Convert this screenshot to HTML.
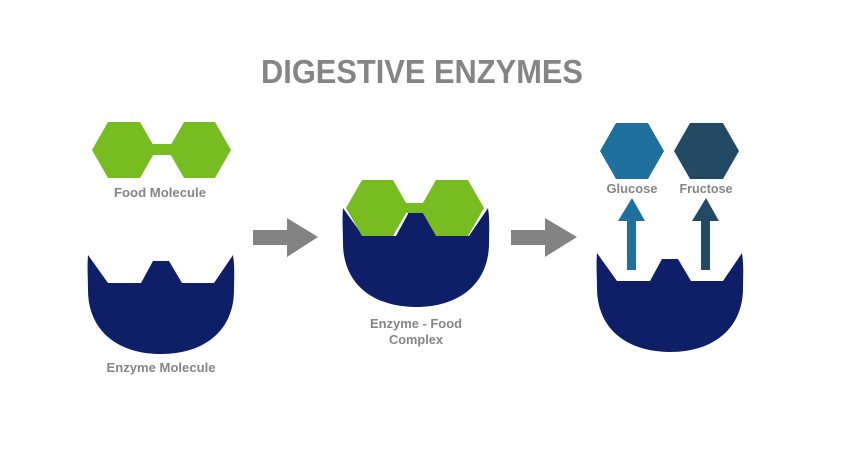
<!DOCTYPE html>
<html><head><meta charset="utf-8"><style>
html,body{margin:0;padding:0;background:#fff;width:850px;height:455px;overflow:hidden}
svg text{font-family:"Liberation Sans",sans-serif;font-weight:bold;fill:#858585}
</style></head><body>
<svg width="850" height="455" viewBox="0 0 850 455" xmlns="http://www.w3.org/2000/svg">
<defs>
<path id="enz" d="M88,255 L108,283 L141,283 L153,261 L169,261 L182,283 L214,283 L233,255 C235,268 234,278 234,290 C234,330 205,354 161,354 C117,354 88,330 88,290 C88,278 87,268 88,255 Z" fill="#0e1f68"/>
</defs>
<text x="422" y="83" font-size="33" text-anchor="middle" textLength="322" lengthAdjust="spacingAndGlyphs">DIGESTIVE ENZYMES</text>

<g fill="#77bc21">
<polygon points="92,150 108,122 140,122 156,150 140,178 108,178"/>
<rect x="150" y="144" width="24" height="11"/>
<polygon points="168,150 184,122 215,122 231,150 215,178 184,178"/>
</g>
<text x="160" y="197" font-size="13" text-anchor="middle" textLength="92" lengthAdjust="spacingAndGlyphs">Food Molecule</text>
<use href="#enz"/>
<text x="161" y="372" font-size="13" text-anchor="middle" textLength="109" lengthAdjust="spacingAndGlyphs">Enzyme Molecule</text>

<polygon points="253,230 287,230 287,218 318,237 287,257 287,245 253,245" fill="#838383"/>
<polygon points="511,230 545,230 545,218 577,237 545,257 545,245 511,245" fill="#838383"/>

<use href="#enz" transform="translate(255,-47)"/>
<g fill="#77bc21">
<polygon points="346,208 362,180 393,180 409,208 393,236 362,236"/>
<rect x="405" y="203" width="20" height="10"/>
<polygon points="420,208 436,180 468,180 484,208 468,236 436,236"/>
</g>
<path d="M403,236 L408,213 L423,213 L428,236 Z" fill="#0e1f68"/>
<text x="416" y="328" font-size="13" text-anchor="middle" textLength="92" lengthAdjust="spacingAndGlyphs">Enzyme - Food</text>
<text x="416" y="344" font-size="13" text-anchor="middle" textLength="54" lengthAdjust="spacingAndGlyphs">Complex</text>

<use href="#enz" transform="translate(509,-2)"/>
<polygon points="600,151 616,123 648,123 664,151 648,179 616,179" fill="#1f709c"/>
<polygon points="674,151 690,123 723,123 739,151 723,179 690,179" fill="#244964"/>
<text x="632" y="193" font-size="13" text-anchor="middle" textLength="51" lengthAdjust="spacingAndGlyphs">Glucose</text>
<text x="706" y="193" font-size="13" text-anchor="middle" textLength="53" lengthAdjust="spacingAndGlyphs">Fructose</text>
<polygon points="627,270 627,221 618,221 632,198 645,221 636,221 636,270" fill="#1f709c"/>
<polygon points="701,270 701,221 692,221 706,198 719,221 710,221 710,270" fill="#244964"/>
</svg>
</body></html>
